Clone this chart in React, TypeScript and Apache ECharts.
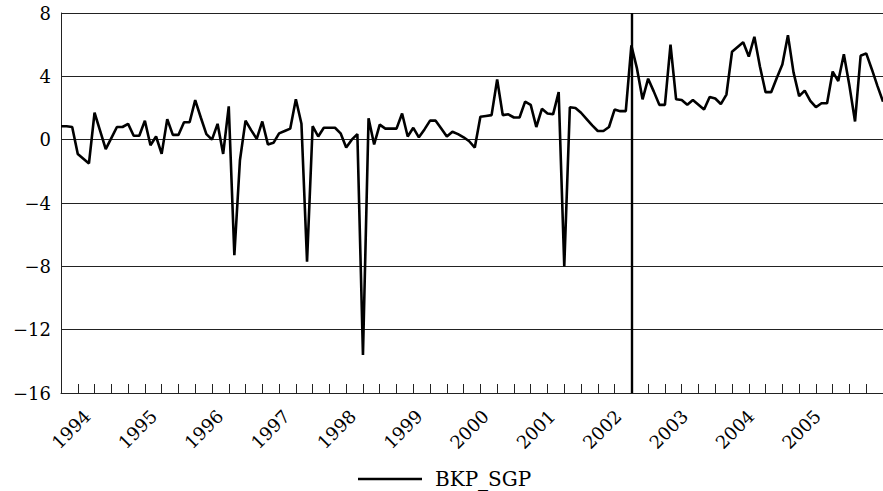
import React, { useEffect, useRef } from "react";
import * as echarts from "echarts";

// Monthly observations, 1994M1 onwards
const seriesName = "BKP_SGP";
const years = [1994, 1995, 1996, 1997, 1998, 1999, 2000, 2001, 2002, 2003, 2004, 2005];
const values = [
  0.85, 0.85, 0.8, -0.9, -1.2, -1.5, 1.7, 0.55, -0.6, 0.1, 0.8, 0.8,
  1.0, 0.25, 0.25, 1.2, -0.35, 0.2, -0.9, 1.3, 0.3, 0.3, 1.1, 1.1,
  2.5, 1.4, 0.35, 0.0, 1.0, -0.9, 2.1, -7.3, -1.3, 1.2, 0.6, 0.05,
  1.15, -0.3, -0.2, 0.4, 0.55, 0.7, 2.55, 1.0, -7.7, 0.85, 0.2, 0.75,
  0.75, 0.75, 0.4, -0.5, 0.0, 0.35, -13.6, 1.35, -0.3, 0.95, 0.7, 0.7,
  0.7, 1.65, 0.2, 0.75, 0.15, 0.65, 1.2, 1.2, 0.7, 0.2, 0.5, 0.35,
  0.15, -0.1, -0.5, 1.45, 1.5, 1.55, 3.8, 1.55, 1.6, 1.4, 1.4, 2.4,
  2.2, 0.8, 1.95, 1.65, 1.6, 3.0, -8.0, 2.05, 2.0, 1.7, 1.3, 0.9,
  0.55, 0.55, 0.8, 1.9, 1.8, 1.8, 5.95, 4.5, 2.55, 3.85, 3.05, 2.2,
  2.2, 6.0, 2.55, 2.5, 2.2, 2.5, 2.2, 1.9, 2.7, 2.6, 2.25, 2.85,
  5.55, 5.85, 6.15, 5.25, 6.5, 4.6, 3.0, 3.0, 3.9, 4.75, 6.6, 4.25,
  2.75, 3.1, 2.45, 2.05, 2.3, 2.3, 4.3, 3.7, 5.4, 3.4, 1.15, 5.3,
  5.45, 4.45, 3.4, 2.4,
];
const breakIndex = 102; // vertical reference line (2002M7)
const yTicks = { min: -16, max: 8, step: 4 };

const FONT = "DejaVu Serif";

export default function App() {
  const ref = useRef<HTMLDivElement>(null);
  useEffect(() => {
    if (!ref.current) return;
    const chart = echarts.init(ref.current, undefined, { renderer: "svg" });
    const lastIndex = values.length - 1;
    const tickVals: number[] = [];
    for (let v = 0; v <= lastIndex; v += 3) tickVals.push(v);
    const labelVals = years.map((_, k) => 4.7 + 11.87 * k);
    chart.setOption({
      animation: false,
      backgroundColor: "#fff",
      grid: { left: 61, right: 0, top: 13, bottom: 98, containLabel: false },
      legend: {
        show: true,
        data: [
          {
            name: seriesName,
            icon: "path://M0,10.7 L64,10.7 L64,13.3 L0,13.3 Z",
          },
        ],
        left: 358,
        top: 465,
        padding: 0,
        itemWidth: 64,
        itemHeight: 24,
        itemStyle: { color: "#000" },
        textStyle: {
          fontFamily: FONT,
          fontSize: 20,
          lineHeight: 28,
          height: 28,
          color: "#000",
          padding: [0, 0, 0, 8],
        },
      },
      xAxis: {
        type: "value",
        min: 0,
        max: lastIndex,
        axisLine: { show: true, onZero: false, lineStyle: { color: "#222", width: 1 } },
        axisTick: {
          show: true,
          inside: true,
          length: 9,
          customValues: tickVals,
          lineStyle: { color: "#222", width: 1 },
        },
        axisLabel: { show: false },
        splitLine: { show: false },
      },
      yAxis: {
        type: "value",
        min: yTicks.min,
        max: yTicks.max,
        interval: yTicks.step,
        axisLine: { show: true, onZero: false, lineStyle: { color: "#222", width: 1 } },
        axisTick: { show: false },
        axisLabel: {
          margin: 10,
          fontFamily: FONT,
          fontSize: 18,
          color: "#000",
          formatter: (v: number) => (v < 0 ? "\u2212" + Math.abs(v) : String(v)),
        },
        splitLine: { show: true, lineStyle: { color: "#222", width: 1 } },
      },
      series: [
        {
          type: "line",
          name: seriesName,
          data: values.map((v, i) => [i, v]),
          symbol: "none",
          showSymbol: false,
          lineStyle: { color: "#000", width: 2.6 },
          itemStyle: { color: "#000" },
          markLine: {
            silent: true,
            symbol: ["none", "none"],
            label: { show: false },
            lineStyle: { color: "#000", width: 2.4, type: "solid" },
            data: [{ xAxis: breakIndex }],
          },
        },
      ],
    });
    // Rotated year labels, anchored through the axis scale
    const labels = years.map((yr, k) => {
      const p = chart.convertToPixel({ gridIndex: 0 }, [labelVals[k], yTicks.min]) as number[];
      return {
        type: "text",
        x: p[0],
        y: p[1] + 20,
        rotation: Math.PI / 4,
        silent: true,
        style: {
          text: String(yr),
          align: "right",
          verticalAlign: "middle",
          fontFamily: FONT,
          fontSize: 18,
          fill: "#000",
        },
      };
    });
    chart.setOption({ graphic: labels });
    return () => chart.dispose();
  }, []);
  return (
    <div
      ref={ref}
      style={{ position: "absolute", left: 0, top: 0, width: 883, height: 491 }}
    />
  );
}
